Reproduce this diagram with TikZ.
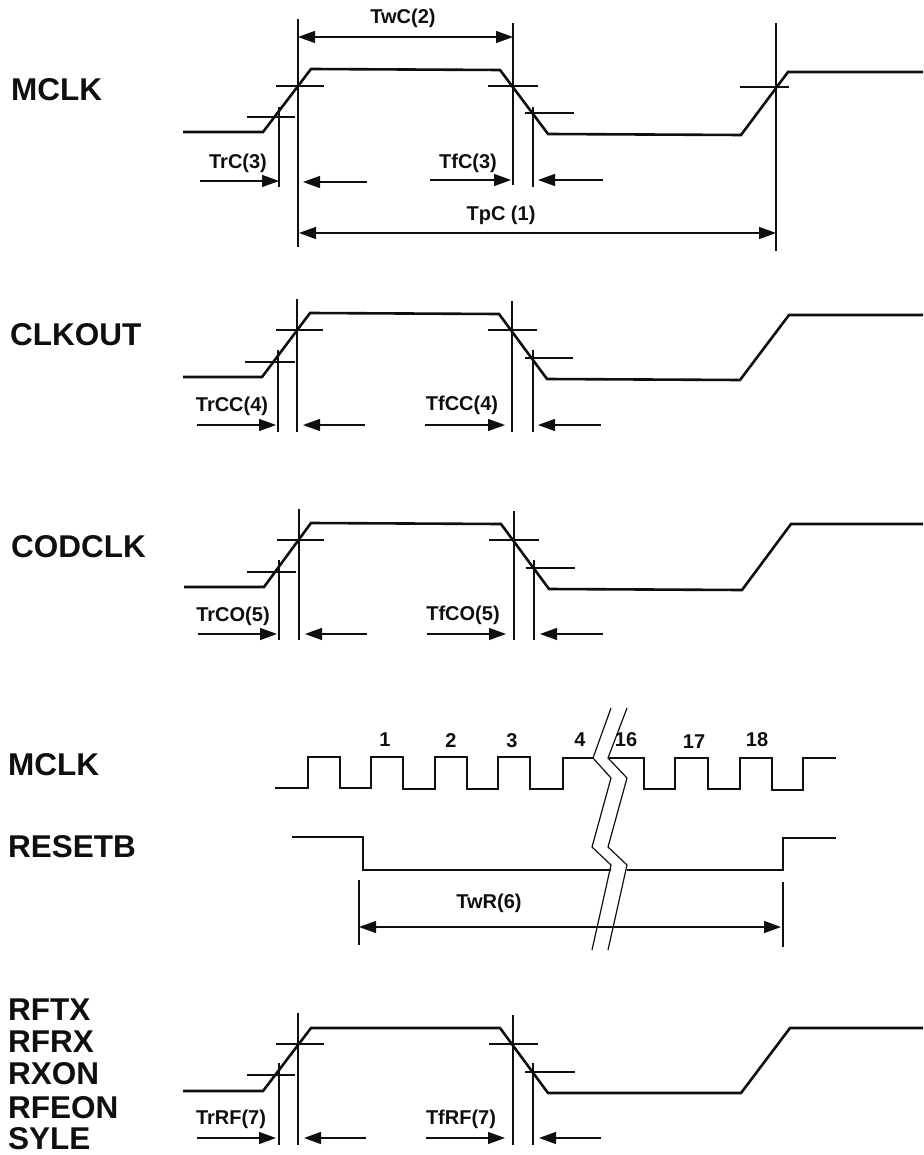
\documentclass[tikz,border=0pt]{standalone}
\usepackage{fontspec}
\setmainfont{Liberation Sans}
\usetikzlibrary{arrows.meta}
\definecolor{TraceBlack}{RGB}{15,15,15}
\tikzset{
	signalname/.style={anchor=west, inner sep=0pt, text=TraceBlack, font=\fontsize{31.5}{31.5}\selectfont\bfseries},
	timelabel/.style={inner sep=0pt, text=TraceBlack, font=\fontsize{20}{20}\selectfont\bfseries},
	trace/.style={line width=2.6pt, draw=TraceBlack},
	guide/.style={line width=1.2pt, draw=TraceBlack},
	span/.style={line width=1.3pt, draw=TraceBlack, -{Triangle[length=17pt,width=12pt]}},
	spanboth/.style={line width=1.3pt, draw=TraceBlack, {Triangle[length=17pt,width=12pt]}-{Triangle[length=17pt,width=12pt]}}
}

\begin{document}
\begin{tikzpicture}[x=1pt,y=-1pt]
		\useasboundingbox (0, 0) rectangle (923, 1155);
		\node[signalname] (mclkname) at (11, 90) {MCLK};
		\draw[trace] (183, 132) -- (263, 132) -- (311, 69) -- (500, 70) -- (548, 134) -- (741, 135) -- (788, 72) -- (923, 72);
		\draw[guide] (298, 19) -- (298, 247);
		\draw[guide] (513, 23) -- (513, 185);
		\draw[guide] (279, 107) -- (279, 187);
		\draw[guide] (533, 107) -- (533, 187);
		\draw[guide] (776, 23) -- (776, 251);
		\draw[guide] (276, 86) -- (324, 86);
		\draw[guide] (488, 86) -- (538, 86);
		\draw[guide] (740, 87) -- (789, 87);
		\draw[guide] (247, 117) -- (295, 117);
		\draw[guide] (525, 113) -- (574, 113);
		\draw[spanboth] (298, 37) -- (513, 37);
		\draw[spanboth] (299, 233) -- (776, 233);
		\draw[span] (200, 181) -- (279, 181);
		\draw[span] (367, 182) -- (303, 182);
		\draw[span] (430, 180) -- (511, 180);
		\draw[span] (603, 180) -- (538, 180);
		\node[timelabel] (twc) at (403, 18) {TwC(2)};
		\node[timelabel] (trc) at (238, 163) {TrC(3)};
		\node[timelabel] (tfc) at (468, 163) {TfC(3)};
		\node[timelabel] (tpc) at (501, 215) {TpC (1)};

		\node[signalname] (clkoutname) at (10, 335) {CLKOUT};
		\draw[trace] (183, 377) -- (262, 377) -- (310, 313) -- (499, 314) -- (547, 379) -- (740, 380) -- (789, 315) -- (923, 315);
		\draw[guide] (297, 299) -- (297, 432);
		\draw[guide] (512, 301) -- (512, 432);
		\draw[guide] (278, 350) -- (278, 432);
		\draw[guide] (533, 350) -- (533, 432);
		\draw[guide] (276, 330) -- (323, 330);
		\draw[guide] (488, 330) -- (537, 330);
		\draw[guide] (245, 362) -- (295, 362);
		\draw[guide] (525, 358) -- (573, 358);
		\draw[span] (197, 425) -- (276, 425);
		\draw[span] (365, 425) -- (303, 425);
		\draw[span] (425, 425) -- (505, 425);
		\draw[span] (601, 425) -- (538, 425);
		\node[timelabel] (trcc) at (232, 406) {TrCC(4)};
		\node[timelabel] (tfcc) at (462, 405) {TfCC(4)};

		\node[signalname] (codclkname) at (11, 547) {CODCLK};
		\draw[trace] (184, 587) -- (264, 587) -- (311, 523) -- (501, 524) -- (549, 589) -- (742, 590) -- (791, 524) -- (923, 524);
		\draw[guide] (299, 509) -- (299, 640);
		\draw[guide] (514, 511) -- (514, 640);
		\draw[guide] (279, 560) -- (279, 640);
		\draw[guide] (534, 560) -- (534, 640);
		\draw[guide] (277, 540) -- (324, 540);
		\draw[guide] (489, 540) -- (539, 540);
		\draw[guide] (247, 572) -- (296, 572);
		\draw[guide] (526, 568) -- (575, 568);
		\draw[span] (198, 634) -- (277, 634);
		\draw[span] (367, 634) -- (305, 634);
		\draw[span] (427, 634) -- (506, 634);
		\draw[span] (603, 634) -- (540, 634);
		\node[timelabel] (trco) at (233, 616) {TrCO(5)};
		\node[timelabel] (tfco) at (463, 615) {TfCO(5)};

		\node[signalname] (mclkshort) at (8, 765) {MCLK};
		\draw[trace] (275, 788) -- (308, 788) -- (308, 757) -- (340, 757) -- (340, 788) -- (371, 788) -- (371, 757) -- (403, 757) -- (403, 789) -- (435, 789) -- (435, 757) -- (467, 757) -- (467, 789) -- (498, 789) -- (498, 757) -- (530, 757) -- (530, 789) -- (563, 789) -- (563, 758) -- (594, 758);
		\draw[trace] (608, 758) -- (644, 758) -- (644, 789) -- (675, 789) -- (675, 758) -- (708, 758) -- (708, 789) -- (740, 789) -- (740, 758) -- (772, 758) -- (772, 790) -- (803, 790) -- (803, 758) -- (836, 758);
		\node[timelabel] (pulseone) at (385, 740) {1};
		\node[timelabel] (pulsetwo) at (451, 741) {2};
		\node[timelabel] (pulsethree) at (512, 741) {3};
		\node[timelabel] (pulsefour) at (580, 740) {4};
		\node[timelabel] (pulsesixteen) at (626, 740) {16};
		\node[timelabel] (pulseseventeen) at (694, 742) {17};
		\node[timelabel] (pulseeighteen) at (757, 740) {18};

		\node[signalname] (resetname) at (8, 847) {RESETB};
		\draw[trace] (292, 837) -- (363, 837) -- (363, 870) -- (611, 870);
		\draw[trace] (627, 870) -- (783, 870) -- (783, 838) -- (836, 838);
		\draw[guide] (359, 880) -- (359, 945);
		\draw[guide] (783, 882) -- (783, 947);
		\draw[spanboth] (359, 927) -- (781, 927);
		\node[timelabel] (twr) at (489, 903) {TwR(6)};
		\draw[guide] (611, 708) -- (593, 758) -- (611, 778) -- (592, 847) -- (611, 865) -- (592, 950);
		\draw[guide] (627, 708) -- (608, 758) -- (627, 778) -- (608, 847) -- (627, 865) -- (608, 950);

		\node[signalname] (rftxname) at (8, 1010) {RFTX};
		\node[signalname] (rfrxname) at (8, 1042) {RFRX};
		\node[signalname] (rxonname) at (8, 1074) {RXON};
		\node[signalname] (rfeonname) at (8, 1108) {RFEON};
		\node[signalname] (sylename) at (8, 1139) {SYLE};
		\draw[trace] (183, 1091) -- (263, 1091) -- (311, 1028) -- (500, 1028) -- (548, 1093) -- (741, 1093) -- (790, 1028) -- (923, 1028);
		\draw[guide] (298, 1013) -- (298, 1145);
		\draw[guide] (513, 1015) -- (513, 1145);
		\draw[guide] (279, 1063) -- (279, 1145);
		\draw[guide] (533, 1063) -- (533, 1145);
		\draw[guide] (276, 1044) -- (324, 1044);
		\draw[guide] (489, 1044) -- (538, 1044);
		\draw[guide] (247, 1075) -- (295, 1075);
		\draw[guide] (525, 1072) -- (575, 1072);
		\draw[span] (197, 1138) -- (276, 1138);
		\draw[span] (366, 1138) -- (304, 1138);
		\draw[span] (426, 1138) -- (505, 1138);
		\draw[span] (601, 1138) -- (539, 1138);
		\node[timelabel] (trrf) at (231, 1119) {TrRF(7)};
		\node[timelabel] (tfrf) at (461, 1119) {TfRF(7)};
	\end{tikzpicture}
\end{document}
